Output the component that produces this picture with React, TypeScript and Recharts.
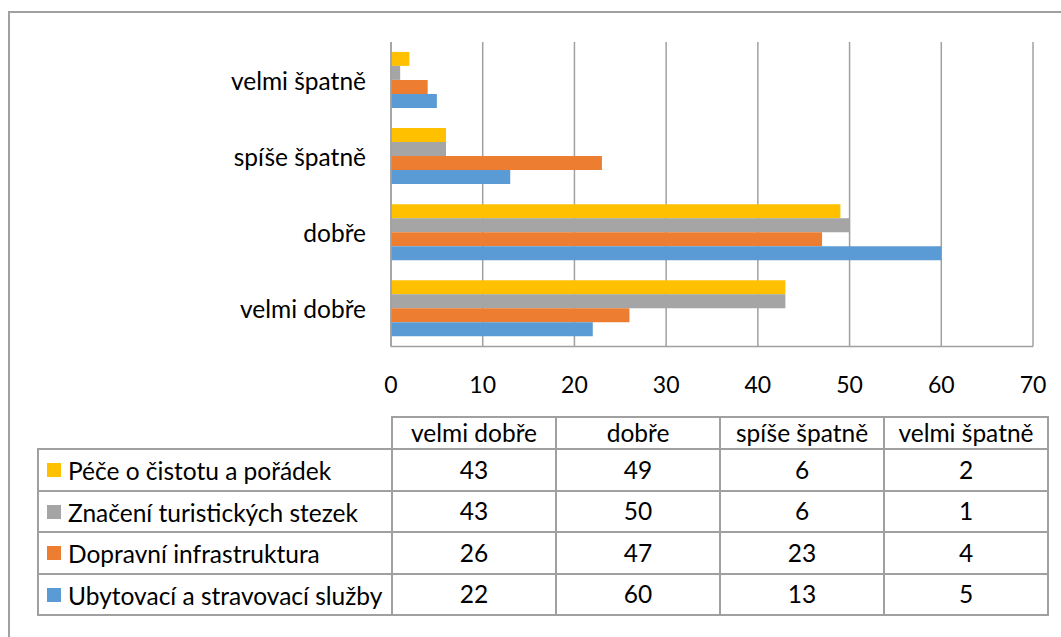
import React from 'react';
import { BarChart, Bar, XAxis, YAxis, CartesianGrid } from 'recharts';

const categories = ['velmi dobře', 'dobře', 'spíše špatně', 'velmi špatně'];
const peceValues = [43, 49, 6, 2];
const znaceniValues = [43, 50, 6, 1];
const dopravniValues = [26, 47, 23, 4];
const ubytovaciValues = [22, 60, 13, 5];
const xTicks = [0, 10, 20, 30, 40, 50, 60, 70];

const SERIES = [
  { key: 'pece', name: 'Péče o čistotu a pořádek', color: '#FFC000', values: peceValues },
  { key: 'znaceni', name: 'Značení turistických stezek', color: '#A5A5A5', values: znaceniValues },
  { key: 'dopravni', name: 'Dopravní infrastruktura', color: '#ED7D31', values: dopravniValues },
  { key: 'ubytovaci', name: 'Ubytovací a stravovací služby', color: '#5B9BD5', values: ubytovaciValues },
];

const data = categories.map((category, i) => {
  const row: any = { category };
  SERIES.forEach(s => {
    row[s.key] = s.values[i];
  });
  return row;
});

const FONT = 'Lato, "Open Sans", sans-serif';
const LINE = '#A0A0A0';
const TEXT_SIZE = 24.5;

function XTick(props: any) {
  const { x, y, payload } = props;
  return (
    <text x={x} y={y + 37} textAnchor="middle" dominantBaseline="central" fontSize={23} fill="#000" fontFamily={FONT}>
      {payload.value}
    </text>
  );
}

function YTick(props: any) {
  const { x, y, payload } = props;
  return (
    <text x={x - 25} y={y} textAnchor="end" dominantBaseline="central" fontSize={TEXT_SIZE} fill="#000" fontFamily={FONT}>
      {payload.value}
    </text>
  );
}

const cellBorder = `2px solid ${LINE}`;

export default function App() {
  return (
    <div
      style={{
        position: 'fixed',
        left: 0,
        top: 0,
        width: 1061,
        height: 637,
        overflow: 'hidden',
        background: '#fff',
        fontFamily: FONT,
      }}
    >
      {/* outer chart frame, only top and left edges show */}
      <div
        style={{
          position: 'absolute',
          left: 8,
          top: 11,
          width: 1200,
          height: 800,
          border: `2px solid ${LINE}`,
        }}
      />

      <div style={{ position: 'absolute', left: 0, top: 0 }}>
        <BarChart
          width={1061}
          height={400}
          data={data}
          layout="vertical"
          margin={{ top: 42, right: 28, bottom: 3.5, left: 0 }}
          barCategoryGap="13%"
          barGap={0}
        >
          <CartesianGrid horizontal={false} stroke={LINE} strokeWidth={1.5} />
          <XAxis
            type="number"
            domain={[0, 70]}
            ticks={xTicks}
            height={50}
            axisLine={{ stroke: LINE, strokeWidth: 1.5 }}
            tickLine={false}
            tickSize={0}
            tickMargin={0}
            tick={<XTick />}
          />
          <YAxis
            type="category"
            dataKey="category"
            reversed
            width={391}
            axisLine={{ stroke: LINE, strokeWidth: 1.5 }}
            tickLine={false}
            tickSize={0}
            tickMargin={0}
            tick={<YTick />}
          />
          {SERIES.map(s => (
            <Bar key={s.key} dataKey={s.key} name={s.name} fill={s.color} isAnimationActive={false} />
          ))}
        </BarChart>
      </div>

      {/* data table */}
      <table
        style={{
          position: 'absolute',
          left: 37,
          top: 416,
          borderCollapse: 'collapse',
          tableLayout: 'fixed',
          fontSize: TEXT_SIZE,
          color: '#000',
          fontFamily: FONT,
          lineHeight: 1,
        }}
      >
        <colgroup>
          <col style={{ width: 354 }} />
          {categories.map(c => (
            <col key={c} style={{ width: 164 }} />
          ))}
        </colgroup>
        <tbody>
          <tr style={{ height: 32 }}>
            <td style={{ border: 'none', padding: 0 }} />
            {categories.map(c => (
              <td key={c} style={{ border: cellBorder, textAlign: 'center', padding: 0, whiteSpace: 'nowrap' }}>
                {c}
              </td>
            ))}
          </tr>
          {SERIES.map(s => (
            <tr key={s.key} style={{ height: 41.5 }}>
              <td style={{ border: cellBorder, padding: '0 0 0 8px', whiteSpace: 'nowrap' }}>
                <span
                  style={{
                    display: 'inline-block',
                    width: 14,
                    height: 14,
                    background: s.color,
                    marginRight: 7,
                    verticalAlign: 'middle',
                    position: 'relative',
                    top: -1,
                  }}
                />
                <span style={{ verticalAlign: 'middle' }}>{s.name}</span>
              </td>
              {s.values.map((v, i) => (
                <td key={i} style={{ border: cellBorder, textAlign: 'center', padding: 0 }}>
                  {v}
                </td>
              ))}
            </tr>
          ))}
        </tbody>
      </table>
    </div>
  );
}
